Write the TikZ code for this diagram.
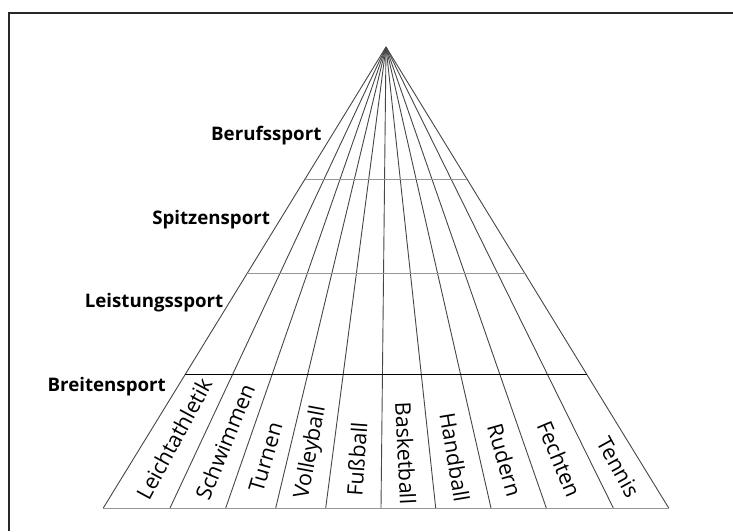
\documentclass[tikz,border=0pt]{standalone}
\usepackage{fontspec}
\setmainfont{Open Sans}
\usetikzlibrary{calc,positioning}
\definecolor{ink}{RGB}{40,40,40}
\definecolor{rule}{RGB}{150,150,150}
\definecolor{rayc}{RGB}{70,70,70}
\tikzset{
  ray/.style={draw=rayc,line width=0.9pt},
  level line/.style={draw=#1,line width=1pt},
  level line/.default=rule,
  level/.style={anchor=east,inner sep=0pt,font=\fontsize{18.7}{20}\selectfont\bfseries},
  sport/.style={sloped,inner sep=0pt,font=\fontsize{21.5}{23}\selectfont},
}

\begin{document}
\begin{tikzpicture}[x=1pt,y=-1pt]
  \useasboundingbox (0,0) rectangle (733,531);
  % frame
  \draw[ink,line width=1.5pt] (9,531) -- (9,13) -- (733,13);
  \coordinate (apex) at (386,47);
  \foreach \x [count=\i from 0] in {103.3,170,225.7,275.7,325.7,381,435.7,491,546.3,613.3,668.7}
    \coordinate (b\i) at (\x,508);
  % rays
  \foreach \i in {0,...,10}
    \draw[ray] (apex) -- (b\i);
  \draw[level line] (b0) -- (b10);
  % levels
  \foreach \t/\c in {0.2872/rule,0.4915/rule,0.7102/black}
    \draw[level line=\c] ($(apex)!\t!(b0)$) -- ($(apex)!\t!(b10)$);
  \foreach \lab/\x/\y [count=\i] in {Berufssport/321.6/136,Spitzensport/270.2/220,
      Leistungssport/223.5/303,Breitensport/166/387}
    \node[level] (lv\i) at (\x,\y) {\lab};
  % sports
  \foreach \lab/\t [count=\i from 0] in {Leichtathletik/0.85,Schwimmen/0.856,Turnen/0.89,
      Volleyball/0.879,Fußball/0.894,Basketball/0.881,Handball/0.89,Rudern/0.896,
      Fechten/0.894,Tennis/0.911}
  {
    \pgfmathtruncatemacro\j{\i+1}
    \path (apex) -- ($(b\i)!0.5!(b\j)$) node[sport,pos=\t] (s\i) {\lab};
  }
\end{tikzpicture}
\end{document}
